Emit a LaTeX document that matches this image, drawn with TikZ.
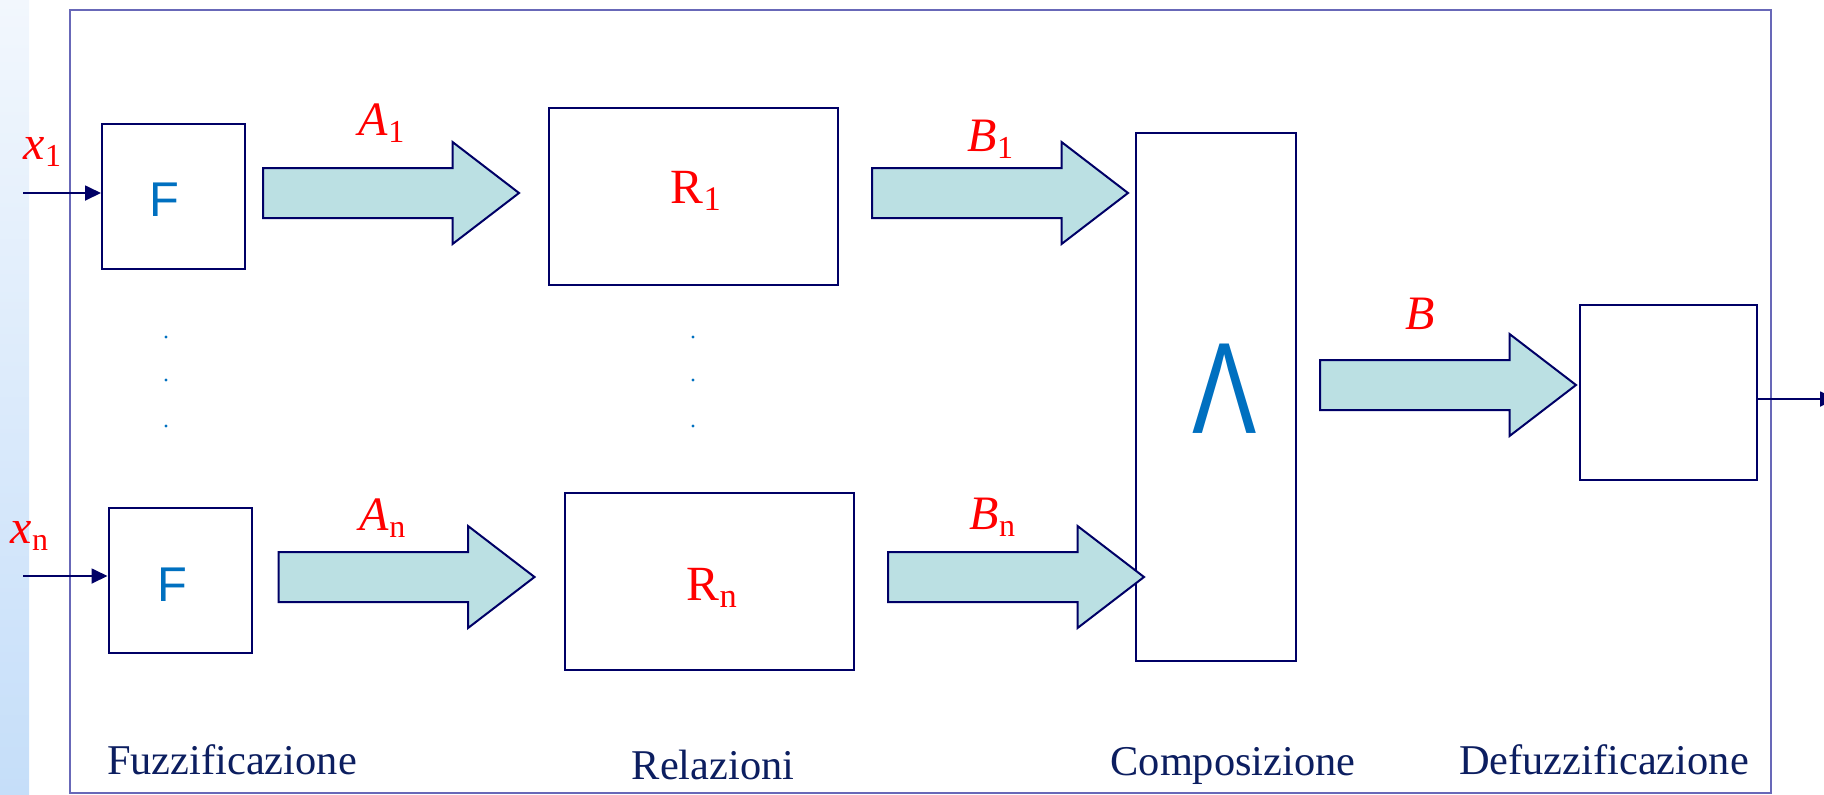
\documentclass[tikz,border=0pt]{standalone}
\usepackage{fontspec}
\setmainfont{Liberation Serif}
\newfontfamily\arialfont{Liberation Sans}
\usepackage{tikz}
\usetikzlibrary{shapes, arrows.meta, positioning}

\definecolor{navy}{RGB}{0,0,102}
\definecolor{framecol}{RGB}{104,104,184}
\definecolor{fatfill}{RGB}{187,224,227}
\definecolor{fblue}{RGB}{0,112,192}
\definecolor{stagecol}{RGB}{12,30,96}
\definecolor{bandtop}{RGB}{242,247,253}
\definecolor{bandbot}{RGB}{197,222,249}

\begin{document}
\begin{tikzpicture}[x=0.25pt, y=-0.25pt,
        every node/.style={inner sep=0pt},
        box/.style={rectangle, draw=navy, line width=0.5pt, minimum width=35.75pt, minimum height=36.25pt},
        relbox/.style={box, minimum width=72.25pt, minimum height=44.25pt},
        fat/.style={single arrow, draw=navy, fill=fatfill, line width=0.5pt, inner xsep=0pt, inner ysep=6pt, minimum height=64pt, minimum width=25pt, single arrow head extend=6.5pt, single arrow tip angle=75},
        ftext/.style={text=fblue, font=\arialfont\fontsize{12.2}{14}\selectfont},
        rtext/.style={text=red, font=\fontsize{12.3}{14}\selectfont, anchor=base west},
        lbl/.style={text=red, font=\fontsize{12}{14}\selectfont, anchor=base west},
        stage/.style={text=stagecol, font=\fontsize{10.6}{12}\selectfont, anchor=base},
        arr/.style={-{Triangle[length=4pt, width=3.75pt]}, draw=navy, line width=0.45pt}]
        \useasboundingbox (0,0) rectangle (1824,794);
        \shade[top color=bandtop, bottom color=bandbot] (0,0) rectangle (29,794);
        \draw[framecol, line width=0.5pt] (70,10) rectangle (1771,793);

        \node[box] (F1) at (173.5,196.5) {};
        \node[box] (Fn) at (180,580.5) {};
        \node[relbox] (R1) at (693.5,196.5) {};
        \node[relbox] (Rn) at (709.5,581.5) {};
        \node[box, minimum width=40pt, minimum height=132pt] (comp) at (1216,397) {};
        \node[box, minimum width=44.25pt, minimum height=43.75pt] (defuz) at (1668.5,392.5) {};

        \node[ftext] (f1) at (164,199.5) {F};
        \node[ftext] (fn) at (172,584.5) {F};
        \node[rtext] (r1) at (670,203) {R\textsubscript{1}};
        \node[rtext] (rn) at (686,600) {R\textsubscript{n}};
        \node[text=fblue, font=\arialfont\fontsize{32.5}{36}\selectfont] (andsym) at (1225,388.5) {\scalebox{0.74}[1]{Λ}};

        \node[fat, right=4pt of F1, yshift=0.875pt] (a1) {};
        \node[fat, right=6.25pt of Fn, yshift=0.875pt] (an) {};
        \node[fat, right=8pt of R1, yshift=0.875pt] (b1) {};
        \node[fat, right=8pt of Rn, yshift=1.125pt] (bn) {};
        \node[fat, right=5.5pt of comp, yshift=3pt] (b) {};

        \node[lbl] (x1) at (23,159) {\textit{x}\textsubscript{1}};
        \node[lbl] (xn) at (10,543) {\textit{x}\textsubscript{n}};
        \node[lbl] (A1) at (358,135) {\textit{A}\textsubscript{1}};
        \node[lbl] (An) at (359,530) {\textit{A}\textsubscript{n}};
        \node[lbl] (B1) at (967,151) {\textit{B}\textsubscript{1}};
        \node[lbl] (Bn) at (969,529) {\textit{B}\textsubscript{n}};
        \node[lbl] (B) at (1405,329) {\textit{B}};

        \foreach \px in {166,693}
            \foreach \py in {337,380,426}
                \fill[fblue] (\px,\py) circle[radius=0.4pt];

        \coordinate (in1) at (23,193);
        \coordinate (inn) at (23,576);
        \coordinate (out) at (1836,399);
        \draw[arr] (in1) -- (in1 -| F1.west);
        \draw[arr] (inn) -- (inn -| Fn.west);
        \draw[arr] (out -| defuz.east) -- (out);

        \node[stage] (fuz) at (232,774) {Fuzzificazione};
        \node[stage] (rel) at (713,779) {Relazioni};
        \node[stage] (cmp) at (1233,775) {Composizione};
        \node[stage] (dfz) at (1604,774) {Defuzzificazione};
    \end{tikzpicture}
\end{document}
